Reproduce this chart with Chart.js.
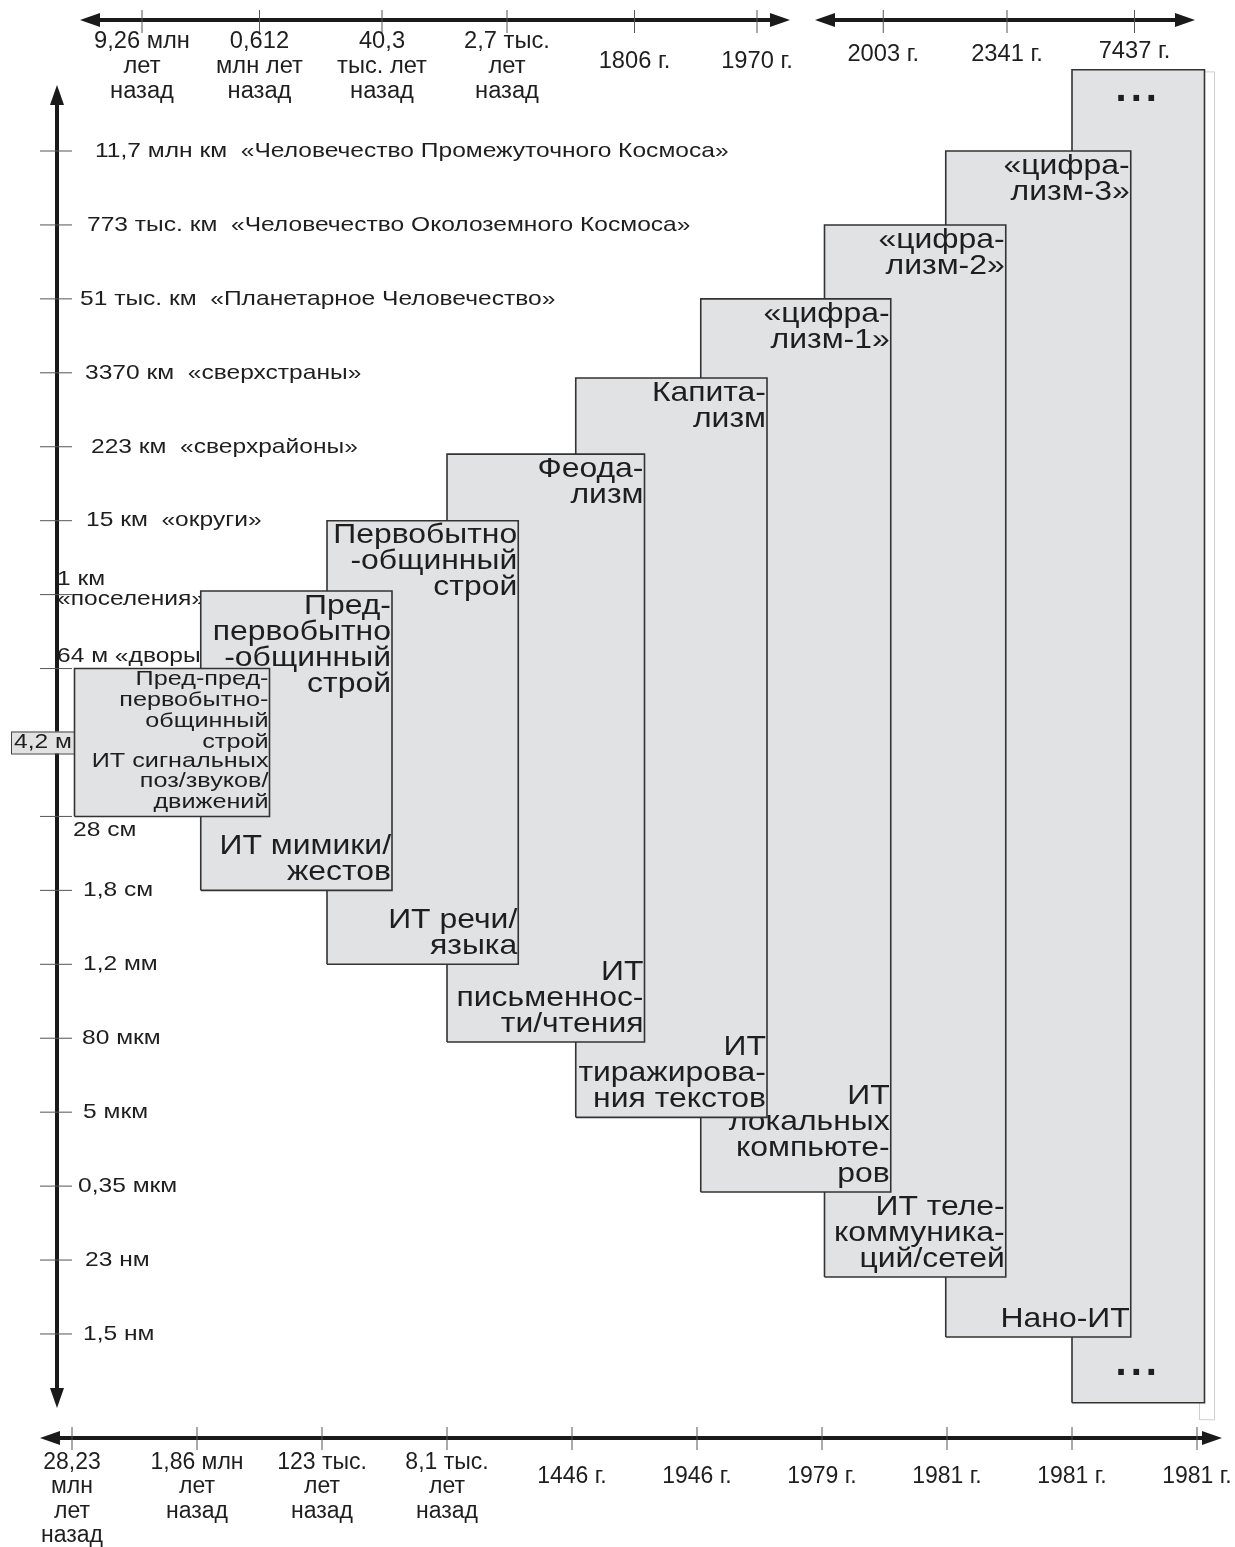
<!DOCTYPE html>
<html lang="ru">
<head>
<meta charset="utf-8">
<title>Формации и масштабы</title>
<script src="https://cdn.jsdelivr.net/npm/chart.js@4.4.1/dist/chart.umd.min.js"></script>
<style>
  html, body { margin: 0; padding: 0; background: #fff; overflow: hidden; }
  #wrap { width: 1235px; height: 1547px; position: relative; }
</style>
</head>
<body>
<div id="wrap"><canvas id="chart"></canvas></div>
<script>
// bottom axis: start of each stage
const bottomTicks = [0, 1, 2, 3, 4, 5, 6, 7, 8, 9];
const bottomLabels = [
    ['28,23', 'млн', 'лет', 'назад'], ['1,86 млн', 'лет', 'назад'], ['123 тыс.', 'лет', 'назад'],
    ['8,1 тыс.', 'лет', 'назад'], '1446 г.', '1946 г.', '1979 г.', '1981 г.', '1981 г.', '1981 г.'
];
// top axis: end of each stage
const topTicks = [0.56, 1.5, 2.48, 3.48, 4.5, 5.48, 6.49, 7.48, 8.5];
const topLabels = [
    ['9,26 млн', 'лет', 'назад'], ['0,612', 'млн лет', 'назад'], ['40,3', 'тыс. лет', 'назад'],
    ['2,7 тыс.', 'лет', 'назад'], '1806 г.', '1970 г.', '2003 г.', '2341 г.', '7437 г.'
];
// vertical axis: size levels
const sizeTicks = [0, 1, 2, 3, 4, 5, 6, 7, 8, 9, 10, 11, 12, 13, 14, 15, 16];
const sizeLabels = [
    '1,5 нм', '23 нм', '0,35 мкм', '5 мкм', '80 мкм', '1,2 мм', '1,8 см', '28 см', '4,2 м',
    '64 м «дворы»', ['1 км', '«поселения»'], '15 км  «округи»', '223 км  «сверхрайоны»',
    '3370 км  «сверхстраны»', '51 тыс. км  «Планетарное Человечество»',
    '773 тыс. км  «Человечество Околоземного Космоса»',
    '11,7 млн км  «Человечество Промежуточного Космоса»'
];

// stages (boxes)
const eraStart = [0.02, 1.03, 2.04, 3.0, 4.03, 5.03, 6.02, 6.99, 8.0];
const eraEnd = [1.58, 2.56, 3.57, 4.58, 5.56, 6.55, 7.47, 8.47, 9.06];
const sizeLow = [7.0, 6.0, 5.0, 3.95, 2.93, 1.92, 0.77, -0.04, -0.93];
const sizeHigh = [9.0, 10.05, 11.0, 11.9, 12.93, 14.0, 15.0, 16.0, 17.1];
const eraNames = [
    ['Пред-пред-', 'первобытно-', 'общинный', 'строй'], ['Пред-', 'первобытно', '-общинный', 'строй'],
    ['Первобытно', '-общинный', 'строй'], ['Феода-', 'лизм'], ['Капита-', 'лизм'],
    ['«цифра-', 'лизм-1»'], ['«цифра-', 'лизм-2»'], ['«цифра-', 'лизм-3»'], ['...']
];
const infoTech = [
    ['ИТ сигнальных', 'поз/звуков/', 'движений'], ['ИТ мимики/', 'жестов'], ['ИТ речи/', 'языка'],
    ['ИТ', 'письменнос-', 'ти/чтения'], ['ИТ', 'тиражирова-', 'ния текстов'],
    ['ИТ', 'локальных', 'компьюте-', 'ров'], ['ИТ теле-', 'коммуника-', 'ций/сетей'], ['Нано-ИТ'], ['...']
];
// faint outline on the right
const outlineX = [9.02, 9.14];
const outlineY = [-1.16, 17.07];

const X_MIN = -0.12, X_MAX = 9.2;
const Y_MIN = -1.407, Y_MAX = 17.231;

const FONT = '"Liberation Sans", Arial, sans-serif';
Chart.defaults.font.family = FONT;
Chart.defaults.color = '#1e1e1e';

function rect(x0, x1, y0, y1) {
    return [{x: x0, y: y0}, {x: x1, y: y0}, {x: x1, y: y1}, {x: x0, y: y1}, {x: x0, y: y0}];
}

const datasets = eraStart.map((s, i) => ({
    label: eraNames[i].join(''),
    data: rect(s, eraEnd[i], sizeLow[i], sizeHigh[i]),
    borderColor: '#333',
    borderWidth: 1.6,
    backgroundColor: '#e1e2e4',
    fill: 'shape',
    pointRadius: 0,
    tension: 0,
    borderJoinStyle: 'miter',
    clip: false
}));
datasets.push({
    label: 'outline',
    data: rect(outlineX[0], outlineX[1], outlineY[0], outlineY[1]),
    borderColor: '#cfcfcf',
    borderWidth: 1,
    fill: false,
    pointRadius: 0,
    clip: false
});

function seg(ctx, x0, y0, x1, y1) {
    ctx.beginPath();
    ctx.moveTo(x0, y0);
    ctx.lineTo(x1, y1);
    ctx.stroke();
}
function arrowHead(ctx, tx, ty, dx, dy) {
    const len = 20, half = 7;
    const bx = tx - dx * len, by = ty - dy * len;
    ctx.beginPath();
    ctx.moveTo(tx, ty);
    ctx.lineTo(bx - dy * half, by + dx * half);
    ctx.lineTo(bx + dy * half, by - dx * half);
    ctx.closePath();
    ctx.fill();
}
// the original lettering is a little wider than Liberation Sans
function wideText(ctx, t, x, y, sx) {
    ctx.save();
    ctx.translate(x, y);
    ctx.scale(sx, 1);
    ctx.fillText(t, 0, 0);
    ctx.restore();
}

// label offsets for the size axis (px from the axis line)
const labelDx = [26, 28, 21, 26, 25, 26, 26, 16, -43, 0, 0, 29, 34, 28, 23, 30, 38];
const labelDy = [0, 0, 0, 0, 0, 0, 0, 14, 0, -12, 5, 0, 0, 0, 0, 0, 0];
// vertical place of the first line of each top label (px from chart top)
const topLabelDy = [-18, -18, -18, -18, 2, 2, -5, -5, -8];

const axesPlugin = {
    id: 'axesPlugin',
    beforeDatasetsDraw(chart) {
        const {ctx, chartArea: a, scales: {x, y}} = chart;
        ctx.save();
        ctx.strokeStyle = '#1a1a1a';
        ctx.fillStyle = '#1a1a1a';

        // vertical axis
        const ax = a.left, yTop = a.top + 25, yBot = a.bottom - 30;
        ctx.lineWidth = 4;
        seg(ctx, ax, yTop + 12, ax, yBot - 12);
        arrowHead(ctx, ax, yTop, 0, -1);
        arrowHead(ctx, ax, yBot, 0, 1);

        // bottom axis
        const by = a.bottom;
        seg(ctx, a.left - 5, by, a.right - 12, by);
        arrowHead(ctx, a.left - 17, by, -1, 0);
        arrowHead(ctx, a.right, by, 1, 0);

        // top axis, two parts
        const ty = a.top - 40;
        [[0.064, 5.744], [5.944, 8.984]].forEach(([s, e]) => {
            const px0 = x.getPixelForValue(s), px1 = x.getPixelForValue(e);
            seg(ctx, px0 + 12, ty, px1 - 12, ty);
            arrowHead(ctx, px0, ty, -1, 0);
            arrowHead(ctx, px1, ty, 1, 0);
        });

        // tick marks
        ctx.lineWidth = 1;
        ctx.strokeStyle = '#555';
        bottomTicks.forEach(v => {
            const px = x.getPixelForValue(v);
            seg(ctx, px, by - 11, px, by + 12);
        });
        topTicks.forEach(v => {
            const px = x.getPixelForValue(v);
            seg(ctx, px, ty - 10, px, ty + 13);
        });
        sizeTicks.forEach(v => {
            const py = y.getPixelForValue(v);
            seg(ctx, ax - 17, py, ax + 15, py);
        });

        // top labels
        ctx.fillStyle = '#1e1e1e';
        ctx.font = '23px ' + FONT;
        ctx.textAlign = 'center';
        ctx.textBaseline = 'middle';
        topTicks.forEach((v, i) => {
            const px = x.getPixelForValue(v);
            const lines = Array.isArray(topLabels[i]) ? topLabels[i] : [topLabels[i]];
            lines.forEach((t, j) => wideText(ctx, t, px, a.top + topLabelDy[i] + j * 25, 1.03));
        });

        // size labels
        ctx.font = '21px ' + FONT;
        ctx.textAlign = 'left';
        sizeTicks.forEach((v, i) => {
            const py = y.getPixelForValue(v);
            const lines = Array.isArray(sizeLabels[i]) ? sizeLabels[i] : [sizeLabels[i]];
            const lx = ax + labelDx[i];
            if (i === 8) {
                const w = a.left + 17 - (lx - 3);
                ctx.fillStyle = '#e2e2e2';
                ctx.fillRect(lx - 3, py - 11, w, 22);
                ctx.strokeStyle = '#444';
                ctx.strokeRect(lx - 3 + 0.5, py - 11 + 0.5, w, 22);
                ctx.fillStyle = '#1e1e1e';
            }
            lines.forEach((t, j) => {
                wideText(ctx, t, lx, py + labelDy[i] + (j - (lines.length - 1)) * 20, 1.17);
            });
        });
        ctx.restore();
    }
};

const eraTextPlugin = {
    id: 'eraText',
    afterDatasetDraw(chart, args) {
        const i = args.index;
        if (i >= eraNames.length) return;
        const {ctx, scales: {x, y}} = chart;
        const left = x.getPixelForValue(eraStart[i]);
        const right = x.getPixelForValue(eraEnd[i]);
        const top = y.getPixelForValue(sizeHigh[i]);
        const bottom = y.getPixelForValue(sizeLow[i]);
        ctx.save();
        ctx.fillStyle = '#1e1e1e';
        if (eraNames[i][0] === '...') {
            ctx.font = 'bold 40px ' + FONT;
            ctx.textAlign = 'center';
            ctx.textBaseline = 'alphabetic';
            if ('letterSpacing' in ctx) ctx.letterSpacing = '4px';
            const cx = (left + right) / 2;
            ctx.fillText('...', cx, top + 31);
            ctx.fillText(infoTech[i][0], cx, bottom - 28);
            ctx.restore();
            return;
        }
        const small = i === 0;
        const lh = small ? 20.8 : 26;
        const sx = small ? 1.2 : 1.14;
        ctx.font = (small ? 21 : 28) + 'px ' + FONT;
        ctx.textAlign = 'right';
        ctx.textBaseline = 'middle';
        const tx = right - 1;
        eraNames[i].forEach((t, j) => wideText(ctx, t, tx, top + (small ? 11 : 15) + j * lh, sx));
        const n = infoTech[i].length;
        infoTech[i].forEach((t, j) => wideText(ctx, t, tx, bottom - (small ? 14 : 18) - (n - 1 - j) * lh, sx));
        ctx.restore();
    }
};

new Chart(document.getElementById('chart'), {
    type: 'line',
    data: {datasets: datasets},
    options: {
        responsive: true,
        maintainAspectRatio: false,
        animation: false,
        events: [],
        layout: {padding: {left: 57, right: 13, top: 60, bottom: 0}},
        plugins: {legend: {display: false}, tooltip: {enabled: false}},
        scales: {
            x: {
                type: 'linear', position: 'bottom', min: X_MIN, max: X_MAX,
                grid: {display: false, drawTicks: false},
                border: {display: false},
                afterBuildTicks: axis => { axis.ticks = bottomTicks.map(v => ({value: v})); },
                afterFit: axis => {
                    axis.height = 109;
                    axis.paddingLeft = 0;
                    axis.paddingRight = 0;
                },
                ticks: {
                    autoSkip: false, maxRotation: 0, minRotation: 0, padding: 12,
                    // single-line year labels sit a little lower than the stacked ones
                    font: c => ({size: 23, lineHeight: Array.isArray(bottomLabels[c.index]) ? 1.065 : 2.3}),
                    callback: (v, i) => bottomLabels[i]
                }
            },
            y: {type: 'linear', min: Y_MIN, max: Y_MAX, display: false}
        }
    },
    plugins: [axesPlugin, eraTextPlugin]
});
</script>
</body>
</html>
